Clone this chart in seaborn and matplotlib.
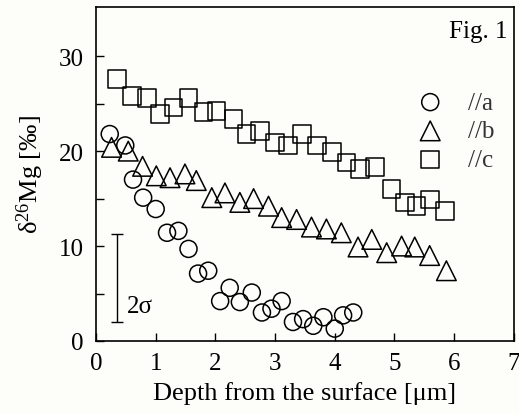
import seaborn as sns
import matplotlib.pyplot as plt
import pandas as pd

# depth [um] and delta26Mg [permil]
depth_a = [0.23, 0.49, 0.62, 0.79, 1.00, 1.19, 1.38, 1.55, 1.71, 1.88, 2.08, 2.24,
           2.41, 2.61, 2.78, 2.94, 3.11, 3.30, 3.47, 3.64, 3.81, 4.00, 4.14, 4.31]
mg_a = [21.8, 20.6, 17.0, 15.1, 13.9, 11.4, 11.6, 9.7, 7.1, 7.4, 4.2, 5.6,
        4.1, 5.1, 3.0, 3.4, 4.2, 2.0, 2.3, 1.6, 2.5, 1.3, 2.7, 3.0]

depth_b = [0.26, 0.54, 0.78, 1.01, 1.24, 1.49, 1.68, 1.94, 2.16, 2.41, 2.64, 2.89,
           3.11, 3.36, 3.61, 3.86, 4.11, 4.39, 4.62, 4.87, 5.12, 5.34, 5.59, 5.87]
mg_b = [20.4, 20.0, 18.4, 17.4, 17.2, 17.6, 16.9, 15.1, 15.6, 14.6, 15.0, 14.2,
        13.0, 12.8, 12.0, 11.8, 11.4, 9.9, 10.7, 9.3, 10.0, 9.9, 9.0, 7.4]

depth_c = [0.35, 0.60, 0.85, 1.07, 1.30, 1.55, 1.80, 2.02, 2.30, 2.52, 2.75, 3.00,
           3.22, 3.45, 3.70, 3.95, 4.20, 4.42, 4.67, 4.95, 5.18, 5.37, 5.60, 5.85]
mg_c = [27.6, 25.8, 25.6, 23.9, 24.6, 25.6, 24.1, 24.2, 23.4, 21.8, 22.1, 20.9,
        20.6, 21.8, 20.6, 19.9, 18.8, 18.1, 18.3, 16.0, 14.6, 14.2, 14.9, 13.7]

df_a = pd.DataFrame({"depth": depth_a, "mg": mg_a})
df_b = pd.DataFrame({"depth": depth_b, "mg": mg_b})
df_c = pd.DataFrame({"depth": depth_c, "mg": mg_c})

sns.set_style("ticks")
plt.rcParams['font.family'] = ['Liberation Serif', 'DejaVu Serif']
plt.rcParams['mathtext.fontset'] = 'custom'
plt.rcParams['mathtext.rm'] = 'Liberation Serif'
plt.rcParams['mathtext.it'] = 'Liberation Serif'
plt.rcParams['text.color'] = 'black'
plt.rcParams['axes.labelcolor'] = 'black'
plt.rcParams['xtick.color'] = 'black'
plt.rcParams['ytick.color'] = 'black'

fig = plt.figure(figsize=(5.19, 4.14), dpi=100)
fig.patch.set_facecolor('#fdfdf9')
ax = fig.add_axes([0.185, 0.174, 0.805, 0.807])
ax.set_facecolor('#fdfdf9')

sns.scatterplot(data=df_a, x="depth", y="mg", marker='o', s=150, ax=ax,
                facecolor='none', edgecolor='black', linewidth=1.1, label="//a")
sns.scatterplot(data=df_b, x="depth", y="mg", marker='^', s=200, ax=ax,
                facecolor='none', edgecolor='black', linewidth=1.1, label="//b")
sns.scatterplot(data=df_c, x="depth", y="mg", marker='s', s=160, ax=ax,
                facecolor='none', edgecolor='black', linewidth=1.1, label="//c")

# 2 sigma scale bar
ax.errorbar([0.35], [6.65], yerr=[4.65], color='black', capsize=4, lw=1, capthick=1)
ax.text(0.52, 3.7, "2σ", fontsize=18, va='center', ha='left')

ax.text(0.985, 0.96, "Fig. 1", transform=ax.transAxes, ha='right', va='top', fontsize=18)

ax.set_xlim(0, 7)
ax.set_ylim(0, 35.2)
ax.set_xticks(range(8))
ax.set_yticks([0, 10, 20, 30])
ax.set_yticks([5, 15, 25], minor=True)
ax.tick_params(direction='in', length=6, width=1, labelsize=18, colors='black')
ax.tick_params(axis='y', pad=9)
ax.tick_params(axis='x', pad=8)
ax.tick_params(axis='y', which='minor', direction='in', length=6, width=1)
for sp in ax.spines.values():
    sp.set_linewidth(1.2)
    sp.set_color('black')

ax.set_xlabel("Depth from the surface [μm]", fontsize=19, labelpad=5)
ax.set_ylabel("δ$^{26}$Mg [‰]", fontsize=19, labelpad=9)

leg = ax.legend(loc='upper right', bbox_to_anchor=(0.995, 0.80), frameon=False,
                fontsize=18, handletextpad=0.5, labelspacing=0.25, borderaxespad=0.3)
for t in leg.get_texts():
    t.set_color('#333333')

fig.savefig("out.png", dpi=100, facecolor=fig.get_facecolor())
